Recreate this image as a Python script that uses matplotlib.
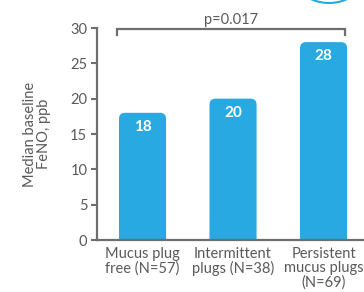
import matplotlib.pyplot as plt
from matplotlib.patches import FancyBboxPatch, Ellipse

categories = ["Mucus plug\nfree (N=57)", "Intermittent\nplugs (N=38)", "Persistent\nmucus plugs\n(N=69)"]
values = [18, 20, 28]
p_text = "p=0.017"
yticks = [0, 5, 10, 15, 20, 25, 30]

blue = "#29A9E1"
grey = "#595959"
axis_grey = "#6E6E6E"

plt.rcParams['font.family'] = ['Lato', 'DejaVu Sans']

fig = plt.figure(figsize=(3.64, 2.92), dpi=100)
ax = fig.add_axes([97 / 364, 52 / 292, 1 - 97 / 364, 212 / 292])

w = 0.52
px_x, px_y = 90.5, 7.07
r = 6 / px_x
for i, v in enumerate(values):
    bar = FancyBboxPatch((i - w / 2 + r, -3), w - 2 * r, v + 3 - r * px_x / px_y,
                         boxstyle="round,pad=%f,rounding_size=%f" % (r, r),
                         mutation_aspect=px_x / px_y,
                         facecolor=blue, edgecolor="none", clip_on=True)
    ax.add_patch(bar)
    ax.text(i, v - 2.0, str(v), color="white", fontweight="bold",
            fontsize=11, ha="center", va="center")

ax.set_xlim(-0.503, 2.447)
ax.set_ylim(0, 30)
ax.set_yticks(yticks)
ax.set_xticks(range(len(categories)))
ax.set_xticklabels(categories, color=grey, fontsize=10.5, linespacing=1.0)
ax.tick_params(axis="x", length=0, pad=5)
ax.tick_params(axis="y", length=4, width=1.5, color=axis_grey, labelcolor=grey,
               labelsize=10.5, direction="out", pad=3)
for s in ["top", "right"]:
    ax.spines[s].set_visible(False)
for s in ["left", "bottom"]:
    ax.spines[s].set_color(axis_grey)
    ax.spines[s].set_linewidth(1.6)

ax.set_ylabel("Median baseline\nFeNO, ppb", color=grey, fontsize=10.5, labelpad=14, linespacing=0.95)

# significance bracket
bx0, bx1 = -0.28, 2.24
ax.plot([bx0, bx0, bx1, bx1], [29.0, 29.85, 29.85, 29.0], color=axis_grey,
        lw=1.6, clip_on=False, solid_joinstyle="miter")
ax.text(0.98, 30.1, p_text, color=grey, fontsize=10.5, ha="center", va="bottom")

# partial logo circle top right
fig.patches.append(Ellipse((329 / 364, 1 + 41 / 292), 88 / 364, 88 / 292,
                           transform=fig.transFigure, facecolor="none",
                           edgecolor=blue, lw=1.5))

fig.savefig("out.png", dpi=100)
